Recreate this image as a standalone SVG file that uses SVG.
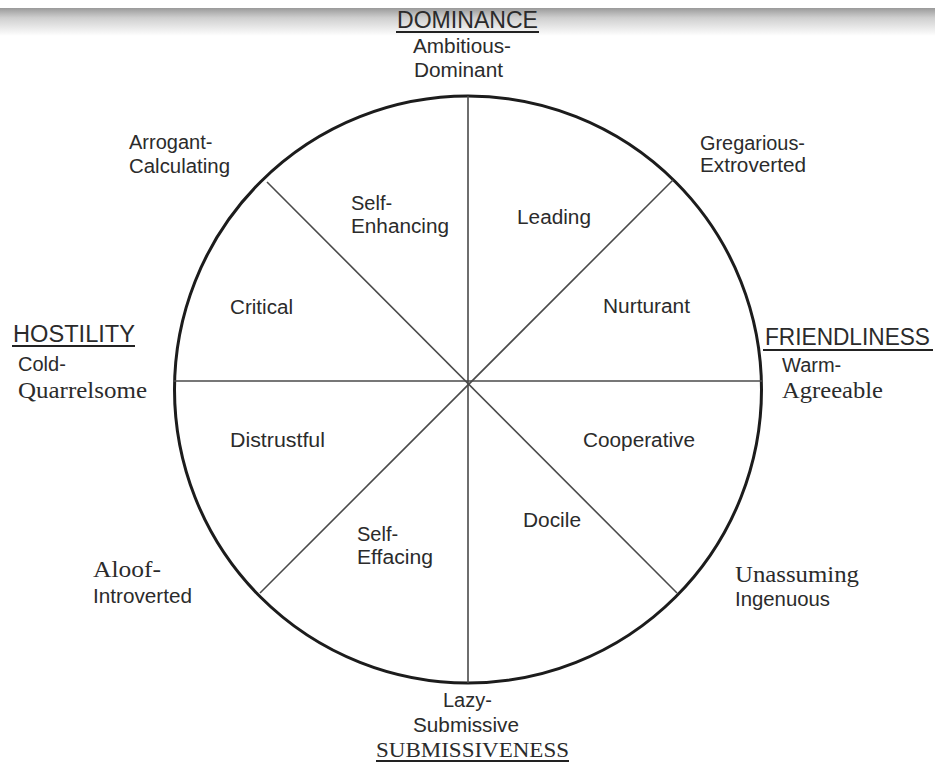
<svg xmlns="http://www.w3.org/2000/svg" width="935" height="763" viewBox="0 0 935 763">
<defs>
<linearGradient id="band" x1="0" y1="0" x2="0" y2="1">
<stop offset="0" stop-color="#9a9a9a"/>
<stop offset="0.35" stop-color="#cfcfcf"/>
<stop offset="1" stop-color="#ffffff"/>
</linearGradient>
</defs>
<style>
.s{font-family:"Liberation Sans",Arial,sans-serif;font-size:20px;fill:#2b2b2b}
.h{font-family:"Liberation Sans",Arial,sans-serif;font-size:23px;fill:#2b2b2b}
.r{font-family:"Liberation Serif","Times New Roman",serif;font-size:23px;fill:#2b2b2b}
.u{stroke:#222;stroke-width:2.2}
.ax{stroke:#4a4a4a;stroke-width:1.6;fill:none}
.ring{stroke:#1c1c1c;stroke-width:3;fill:none}
</style>
<rect width="935" height="763" fill="#fff"/>
<rect x="0" y="8" width="935" height="28" fill="url(#band)"/>
<g id="circle"><circle class="ring" cx="468" cy="389.5" r="293.5"/></g>
<g id="connectors">
<line class="ax" x1="468" y1="96" x2="468" y2="683"/>
<line class="ax" x1="173" y1="381" x2="762" y2="381"/>
<line class="ax" x1="267" y1="182" x2="677" y2="593"/>
<line class="ax" x1="673" y1="180" x2="260" y2="593"/>
</g>
<g id="dominance">
<text class="h" x="397" y="28" textLength="141" lengthAdjust="spacingAndGlyphs">DOMINANCE</text>
<line class="u" x1="396" y1="32" x2="539" y2="32"/>
<text class="s" x="413" y="53" textLength="98" lengthAdjust="spacingAndGlyphs">Ambitious-</text>
<text class="s" x="414" y="77" textLength="89" lengthAdjust="spacingAndGlyphs">Dominant</text>
</g>
<g id="arrogant">
<text class="s" x="129" y="149">Arrogant-</text>
<text class="s" x="129" y="173" textLength="101" lengthAdjust="spacingAndGlyphs">Calculating</text>
</g>
<g id="gregarious">
<text class="s" x="700" y="150" textLength="105" lengthAdjust="spacingAndGlyphs">Gregarious-</text>
<text class="s" x="700" y="172" textLength="106" lengthAdjust="spacingAndGlyphs">Extroverted</text>
</g>
<g id="hostility">
<text class="h" x="13" y="342" textLength="122" lengthAdjust="spacingAndGlyphs">HOSTILITY</text>
<line class="u" x1="12" y1="346" x2="135" y2="346"/>
<text class="s" x="18" y="371">Cold-</text>
<text class="r" x="18" y="398" textLength="129" lengthAdjust="spacingAndGlyphs">Quarrelsome</text>
</g>
<g id="friendliness">
<text class="h" x="765" y="345" textLength="165" lengthAdjust="spacingAndGlyphs">FRIENDLINESS</text>
<line class="u" x1="763" y1="350" x2="933" y2="350"/>
<text class="s" x="782" y="372">Warm-</text>
<text class="r" x="782" y="398" textLength="101" lengthAdjust="spacingAndGlyphs">Agreeable</text>
</g>
<g id="aloof">
<text class="r" x="93" y="577" textLength="68" lengthAdjust="spacingAndGlyphs">Aloof-</text>
<text class="s" x="93" y="603" textLength="99" lengthAdjust="spacingAndGlyphs">Introverted</text>
</g>
<g id="unassuming">
<text class="r" x="735" y="582" textLength="124" lengthAdjust="spacingAndGlyphs">Unassuming</text>
<text class="s" x="735" y="606" textLength="95" lengthAdjust="spacingAndGlyphs">Ingenuous</text>
</g>
<g id="submissiveness">
<text class="s" x="443" y="707">Lazy-</text>
<text class="s" x="413" y="732" textLength="106" lengthAdjust="spacingAndGlyphs">Submissive</text>
<text class="r" x="376" y="757" textLength="193" lengthAdjust="spacingAndGlyphs" style="font-size:22px">SUBMISSIVENESS</text>
<line class="u" x1="376" y1="761" x2="569" y2="761"/>
</g>
<g id="self-enhancing">
<text class="s" x="351" y="210">Self-</text>
<text class="s" x="351" y="233" textLength="98" lengthAdjust="spacingAndGlyphs">Enhancing</text>
</g>
<g id="leading"><text class="s" x="517" y="224" textLength="74" lengthAdjust="spacingAndGlyphs">Leading</text></g>
<g id="critical"><text class="s" x="230" y="314" textLength="63" lengthAdjust="spacingAndGlyphs">Critical</text></g>
<g id="nurturant"><text class="s" x="603" y="313" textLength="87" lengthAdjust="spacingAndGlyphs">Nurturant</text></g>
<g id="distrustful"><text class="s" x="230" y="447" textLength="95" lengthAdjust="spacingAndGlyphs">Distrustful</text></g>
<g id="cooperative"><text class="s" x="583" y="447" textLength="112" lengthAdjust="spacingAndGlyphs">Cooperative</text></g>
<g id="self-effacing">
<text class="s" x="357" y="541">Self-</text>
<text class="s" x="357" y="564" textLength="76" lengthAdjust="spacingAndGlyphs">Effacing</text>
</g>
<g id="docile"><text class="s" x="523" y="527" textLength="58" lengthAdjust="spacingAndGlyphs">Docile</text></g>
</svg>
